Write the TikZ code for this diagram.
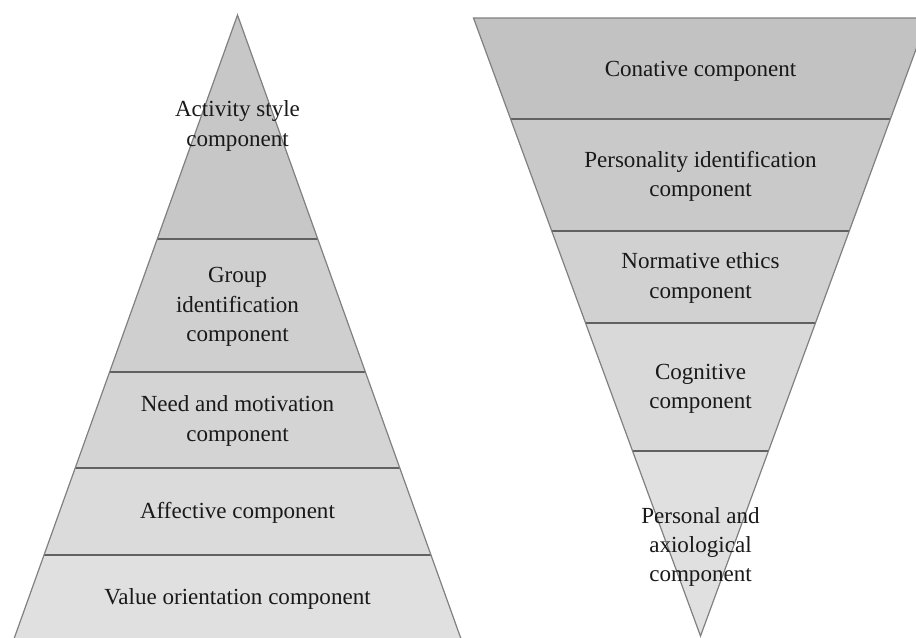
\documentclass[tikz,border=0pt]{standalone}
\usepackage{fontspec}
\setmainfont{Liberation Serif}

\begin{document}
\begin{tikzpicture}[x = 0.25mm, y = -0.25mm,
	comp/.style = {align = center, text = black!90, font = \fontsize{16.4pt}{20.8pt}\selectfont},
	edge/.style = {draw = black!50, line width = 0.3mm, line join = miter},
	divider/.style = {draw = black!62, line width = 0.4mm}]
	\useasboundingbox (0, 0) rectangle (916, 637);

	% Pyramide:
	\begin{scope}
		\clip (237.5, 15) -- (10, 650) -- (465, 650) -- cycle;
		\fill [black!22] (0, 0) rectangle (480, 239);
		\fill [black!19] (0, 239) rectangle (480, 372);
		\fill [black!17] (0, 372) rectangle (480, 468);
		\fill [black!14] (0, 468) rectangle (480, 555);
		\fill [black!12] (0, 555) rectangle (480, 650);
		\foreach \y in {239, 372, 468, 555} {
			\draw [divider] (0, \y) -- (480, \y);
		}
	\end{scope}
	\draw [edge] (10, 650) -- (237.5, 15) -- (465, 650);

	\node [comp] (activity) at (237.5, 126) {Activity style\\component};
	\node [comp] (group) at (237.5, 307) {Group\\identification\\component};
	\node [comp] (need) at (237.5, 421) {Need and motivation\\component};
	\node [comp] (affective) at (237.5, 513) {Affective component};
	\node [comp] (value) at (237.5, 599) {Value orientation component};

	% Umgekehrte Pyramide:
	\begin{scope}
		\clip (473.5, 18) -- (927.5, 18) -- (700.5, 636) -- cycle;
		\fill [black!24] (460, 0) rectangle (930, 119);
		\fill [black!21] (460, 119) rectangle (930, 231);
		\fill [black!18] (460, 231) rectangle (930, 323);
		\fill [black!15] (460, 323) rectangle (930, 451);
		\fill [black!12] (460, 451) rectangle (930, 640);
		\foreach \y in {119, 231, 323, 451} {
			\draw [divider] (460, \y) -- (930, \y);
		}
	\end{scope}
	\draw [edge] (700.5, 636) -- (473.5, 18) -- (927.5, 18) -- cycle;

	\node [comp] (conative) at (700.5, 71) {Conative component};
	\node [comp] (personality) at (700.5, 176) {Personality identification\\component};
	\node [comp] (normative) at (700.5, 278) {Normative ethics\\component};
	\node [comp] (cognitive) at (700.5, 389) {Cognitive\\component};
	\node [comp] (personal) at (700.5, 547) {Personal and\\axiological\\component};
\end{tikzpicture}
\end{document}
